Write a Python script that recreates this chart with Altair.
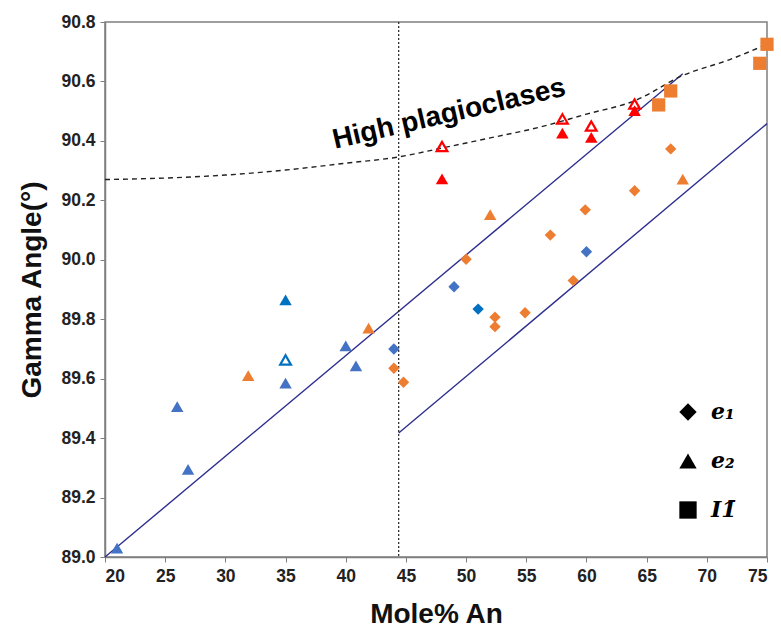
import altair as alt
import pandas as pd

# ---- data ----
blue_tri_x = [21, 26, 26.9, 35, 40, 40.85]
blue_tri_y = [89.03, 89.506, 89.295, 89.585, 89.71, 89.643]
dblue_tri_x = [35]
dblue_tri_y = [89.865]
orange_tri_x = [31.9, 41.9, 52, 68]
orange_tri_y = [89.61, 89.77, 90.152, 90.271]
red_tri_x = [48, 58, 60.4, 64]
red_tri_y = [90.272, 90.426, 90.412, 90.502]
red_open_x = [48, 58, 60.4, 64]
red_open_y = [90.381, 90.474, 90.45, 90.524]
blue_open_x = [35]
blue_open_y = [89.663]
orange_sq_x = [66, 67, 74.4, 75]
orange_sq_y = [90.521, 90.568, 90.661, 90.725]
blue_dia_x = [44, 49, 60]
blue_dia_y = [89.70, 89.909, 90.027]
dblue_dia_x = [51]
dblue_dia_y = [89.834]
orange_dia_x = [44, 44.8, 50, 52.4, 52.4, 54.9, 57, 58.9, 59.9, 64, 67]
orange_dia_y = [89.635, 89.588, 90.002, 89.807, 89.775, 89.822, 90.083, 89.93, 90.168, 90.232, 90.373]

line1_x = [20, 68]
line1_y = [89.0, 90.626]
line2_x = [44.4, 75]
line2_y = [89.417, 90.458]
vline_x = 44.4

curve_x = [20, 25, 30, 35, 40, 44.4, 48, 52, 56, 60, 64, 68, 72, 75]
curve_y = [90.27, 90.275, 90.285, 90.302, 90.325, 90.346, 90.376, 90.41, 90.445, 90.49, 90.535, 90.62, 90.675, 90.725]

label_text = "High plagioclases"
label_x = 48.6
label_y = 90.49

legend_labels = {"e1": "e₁", "e2": "e₂", "I1": "I1\u0304"}

BLUE = "#4472C4"
DBLUE = "#0070C0"
ORANGE = "#ED7D31"
RED = "#FF0000"


def frame(groups):
    rows = []
    for xs_, ys_, kind, color in groups:
        for a, b in zip(xs_, ys_):
            rows.append({"x": a, "y": b, "kind": kind, "color": color})
    return pd.DataFrame(rows)


dia_df = frame([(blue_dia_x, blue_dia_y, "e1", BLUE),
                (dblue_dia_x, dblue_dia_y, "e1", DBLUE),
                (orange_dia_x, orange_dia_y, "e1", ORANGE)])
tri_df = frame([(blue_tri_x, blue_tri_y, "e2", BLUE),
                (dblue_tri_x, dblue_tri_y, "e2", DBLUE),
                (orange_tri_x, orange_tri_y, "e2", ORANGE),
                (red_tri_x, red_tri_y, "e2", RED)])
sq_df = frame([(orange_sq_x, orange_sq_y, "I1", ORANGE)])

open_df = pd.DataFrame({
    "x": red_open_x + blue_open_x,
    "y": red_open_y + blue_open_y,
    "color": [RED] * len(red_open_x) + [DBLUE] * len(blue_open_x),
})

FONT = "Liberation Sans"
xs = alt.Scale(domain=[20, 75], nice=False, zero=False)
ys = alt.Scale(domain=[89.0, 90.8], nice=False, zero=False)

axis_style = dict(grid=False, domainColor="#7f7f7f", domainWidth=1.5, tickColor="#7f7f7f",
                  tickSize=5, labelFont=FONT, labelFontWeight="bold", labelFontSize=17.5,
                  labelColor="#222222", titleFont=FONT, titleFontWeight="bold",
                  titleFontSize=28, titleColor="#111111", labelPadding=5)

xax = alt.Axis(values=list(range(20, 80, 5)), title="Mole% An", titlePadding=16, **axis_style)
yax = alt.Axis(values=[89.0, 89.2, 89.4, 89.6, 89.8, 90.0, 90.2, 90.4, 90.6, 90.8],
               format=".1f", title="Gamma Angle(°)", titlePadding=14, **axis_style)

base_x = alt.X("x:Q", scale=xs, axis=xax)
base_y = alt.Y("y:Q", scale=ys, axis=yax)

shape_enc = alt.Shape(
    "kind:N",
    scale=alt.Scale(domain=["e1", "e2", "I1"], range=["diamond", "triangle-up", "square"]),
    legend=alt.Legend(
        title=None, orient="none", legendX=572, legendY=379,
        symbolFillColor="black", symbolStrokeColor="black",
        symbolSize=300, symbolStrokeWidth=0, symbolOpacity=1,
        labelFont="DejaVu Serif", labelFontStyle="italic",
        labelFontWeight="bold", labelFontSize=22, labelColor="black",
        labelOffset=12, rowPadding=27, padding=0,
        labelExpr="datum.value == 'e1' ? '%s' : datum.value == 'e2' ? '%s' : '%s'"
                  % (legend_labels["e1"], legend_labels["e2"], legend_labels["I1"]),
    ),
)

l1 = alt.Chart(pd.DataFrame({"x": line1_x, "y": line1_y})).mark_line(
    color="#2E2E8F", strokeWidth=1.4).encode(x=base_x, y=base_y)
l2 = alt.Chart(pd.DataFrame({"x": line2_x, "y": line2_y})).mark_line(
    color="#2E2E8F", strokeWidth=1.4).encode(x="x:Q", y="y:Q")
vl = alt.Chart(pd.DataFrame({"x": [vline_x]})).mark_rule(
    color="#222222", strokeDash=[2, 2], strokeWidth=1.2).encode(x="x:Q")
cv = alt.Chart(pd.DataFrame({"x": curve_x, "y": curve_y})).mark_line(
    color="#222222", strokeDash=[5, 4], strokeWidth=1.4, interpolate="monotone").encode(x="x:Q", y="y:Q")


def pts(df, size):
    return alt.Chart(df).mark_point(filled=True, opacity=1, size=size).encode(
        x="x:Q", y="y:Q", color=alt.Color("color:N", scale=None), shape=shape_enc)


dia = pts(dia_df, 130)
tri = pts(tri_df, 155)
sq = pts(sq_df, 175)

hollow = alt.Chart(open_df).mark_point(filled=False, shape="triangle-up", size=115,
                                       strokeWidth=2.2, opacity=1).encode(
    x="x:Q", y="y:Q", stroke=alt.Stroke("color:N", scale=None))

txt = alt.Chart(pd.DataFrame({"x": [label_x], "y": [label_y], "t": [label_text]})).mark_text(
    angle=347, fontSize=28, fontWeight="bold", font=FONT, color="black"
).encode(x="x:Q", y="y:Q", text="t:N")

chart = alt.layer(l1, l2, vl, cv, dia, tri, sq, hollow, txt).properties(
    width=662, height=535,
    autosize=alt.AutoSizeParams(type="none"),
    padding={"left": 105, "top": 22, "right": 14, "bottom": 75},
    background="white",
).configure_view(stroke="#7f7f7f", strokeWidth=1.5)

chart.save("out.html", embed_options={"renderer": "svg", "actions": False})
